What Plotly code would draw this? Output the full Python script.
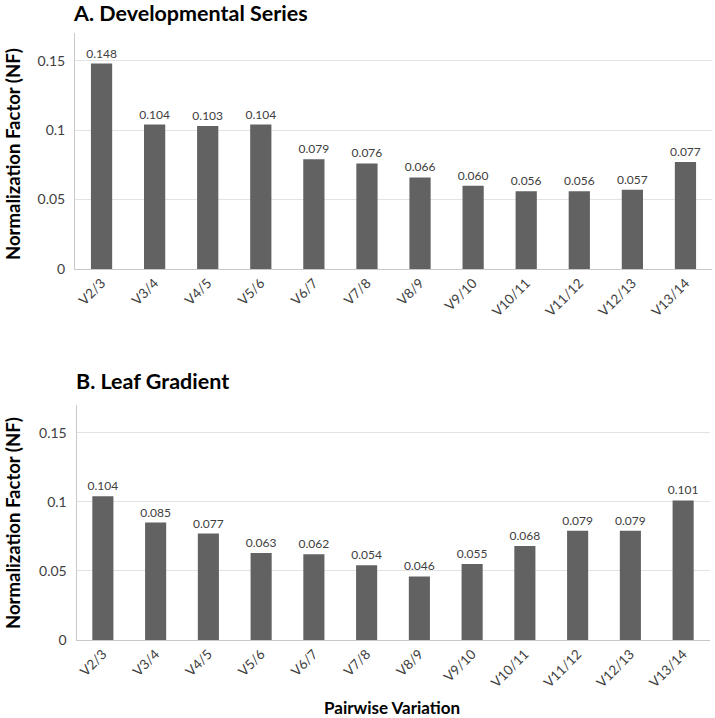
import plotly.graph_objects as go

categories = ["V2/3", "V3/4", "V4/5", "V5/6", "V6/7", "V7/8", "V8/9", "V9/10",
              "V10/11", "V11/12", "V12/13", "V13/14"]
dev_values = [0.148, 0.104, 0.103, 0.104, 0.079, 0.076, 0.066, 0.060,
              0.056, 0.056, 0.057, 0.077]
leaf_values = [0.104, 0.085, 0.077, 0.063, 0.062, 0.054, 0.046, 0.055,
               0.068, 0.079, 0.079, 0.101]
y_ticks = [0, 0.05, 0.1, 0.15]
y_ticklabels = ["0", "0.05", "0.1", "0.15"]

W, H = 715, 718
FONT = "Lato"
BAR = "#626262"
TXT = "#404040"

fig = go.Figure()
for vals, xa, ya in [(dev_values, "x", "y"), (leaf_values, "x2", "y2")]:
    fig.add_trace(go.Bar(x=categories, y=vals, xaxis=xa, yaxis=ya,
                         marker=dict(color=BAR, line=dict(width=0)),
                         text=[f"{v:.3f}" for v in vals], textposition="outside",
                         constraintext="none",
                         textfont=dict(size=12, color=TXT, family=FONT), cliponaxis=False,
                         showlegend=False))

xcommon = dict(showline=True, linecolor="#c8c8c8", linewidth=1, ticks="", tickangle=-45,
               tickfont=dict(size=13.5, color=TXT, family=FONT), showgrid=False,
               automargin=False)
ycommon = dict(range=[0, 0.17], tickvals=y_ticks, ticktext=y_ticklabels, showline=True,
               linecolor="#c8c8c8", linewidth=1, gridcolor="#e3e3e3", gridwidth=1,
               tickfont=dict(size=14, color=TXT, family=FONT), zeroline=False, ticks="",
               ticklabelstandoff=6, automargin=False)

fig.update_layout(
    width=W, height=H, autosize=False,
    margin=dict(l=0, r=0, t=0, b=0, pad=0),
    plot_bgcolor="white", paper_bgcolor="white",
    bargap=0.6,
    font=dict(family=FONT),
    xaxis=dict(domain=[75 / W, 712 / W], anchor="y", **xcommon),
    yaxis=dict(domain=[1 - 269 / H, 1 - 33 / H], anchor="x", **ycommon),
    xaxis2=dict(domain=[76.5 / W, 709.5 / W], anchor="y2", **xcommon),
    yaxis2=dict(domain=[1 - 640 / H, 1 - 405 / H], anchor="x2", **ycommon),
    annotations=[
        dict(text="<b>A. Developmental Series</b>", xref="paper", yref="paper",
             x=71 / W, y=1 - 13 / H, xanchor="left", yanchor="middle", showarrow=False,
             font=dict(size=21.5, color="black", family=FONT)),
        dict(text="<b>B. Leaf Gradient</b>", xref="paper", yref="paper",
             x=74 / W, y=1 - 381 / H, xanchor="left", yanchor="middle", showarrow=False,
             font=dict(size=21.5, color="black", family=FONT)),
        dict(text="<b>Normalization Factor (NF)</b>", xref="paper", yref="paper",
             x=13 / W, y=1 - 154 / H, xanchor="center", yanchor="middle", textangle=-90,
             showarrow=False, font=dict(size=18.5, color="black", family=FONT)),
        dict(text="<b>Normalization Factor (NF)</b>", xref="paper", yref="paper",
             x=13 / W, y=1 - 523 / H, xanchor="center", yanchor="middle", textangle=-90,
             showarrow=False, font=dict(size=18.5, color="black", family=FONT)),
        dict(text="<b>Pairwise Variation</b>", xref="paper", yref="paper",
             x=392 / W, y=1 - 707 / H, xanchor="center", yanchor="middle",
             showarrow=False, font=dict(size=17, color="black", family=FONT)),
    ],
)

fig.write_html("out.html", config={"displayModeBar": False},
               post_script="document.body.style.margin='0';document.body.style.padding='0';")
